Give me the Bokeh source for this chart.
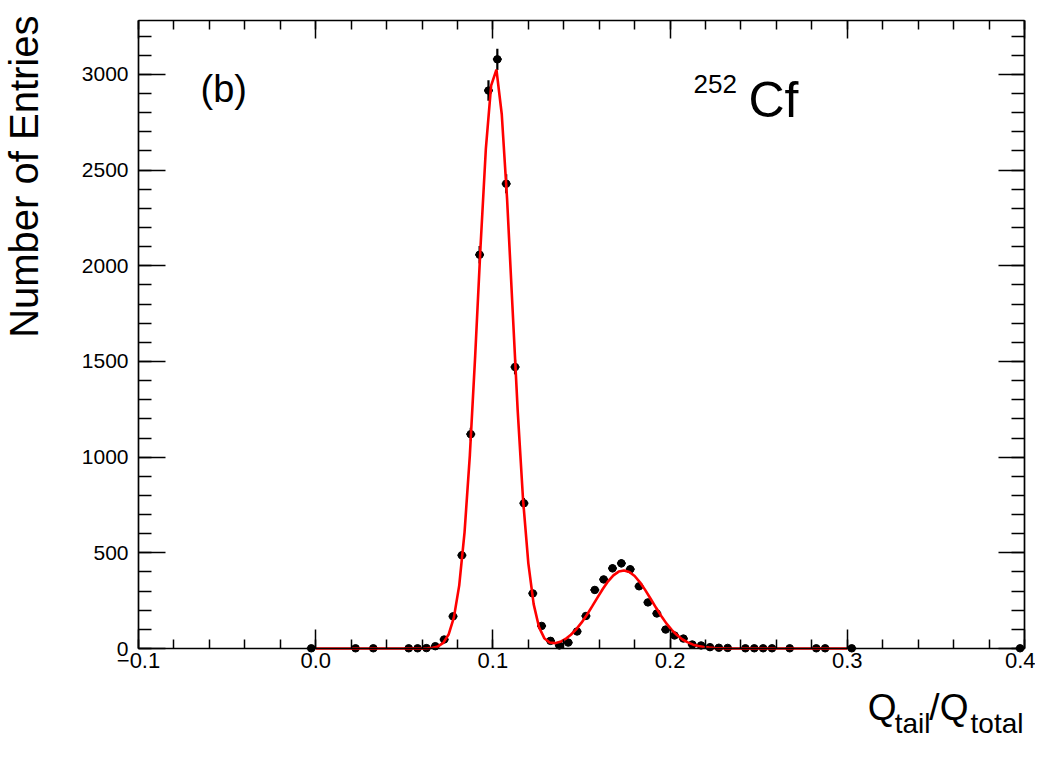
import math
from bokeh.plotting import figure
from bokeh.models import (LinearAxis, FixedTicker, Label, Range1d, ColumnDataSource,
                          CustomJSTickFormatter)
from bokeh.embed import file_html
from bokeh.resources import INLINE

# ---------------- data ----------------
bin_centers = [-0.0025, 0.0225, 0.0325, 0.0525, 0.0575, 0.0625, 0.0675, 0.0725,
               0.0775, 0.0825, 0.0875, 0.0925, 0.0975, 0.1025, 0.1075, 0.1125,
               0.1175, 0.1225, 0.1275, 0.1325, 0.1375, 0.1425, 0.1475, 0.1525,
               0.1575, 0.1625, 0.1675, 0.1725, 0.1775, 0.1825, 0.1875, 0.1925,
               0.1975, 0.2025, 0.2075, 0.2125, 0.2175, 0.2225, 0.2275, 0.2325,
               0.2425, 0.2475, 0.2525, 0.2575, 0.2675, 0.2825, 0.2875, 0.3025,
               0.3975]
counts = [1, 1, 1, 1, 1, 2, 12, 47,
          168, 487, 1120, 2058, 2916, 3079, 2429, 1471,
          759, 288, 118, 40, 16, 31, 89, 170,
          306, 361, 419, 445, 414, 325, 241, 183,
          99, 68, 52, 21, 16, 7, 4, 3,
          1, 1, 1, 1, 1, 1, 1, 1,
          1]
bin_width = 0.005

fit_x = [0.000, 0.057, 0.060, 0.063, 0.066, 0.069, 0.072, 0.075, 0.078, 0.081,
         0.084, 0.087, 0.090, 0.093, 0.096, 0.099, 0.102, 0.105, 0.108, 0.111,
         0.114, 0.117, 0.120, 0.123, 0.126, 0.129, 0.132, 0.135, 0.138, 0.141,
         0.144, 0.147, 0.150, 0.153, 0.156, 0.159, 0.162, 0.165, 0.168, 0.171,
         0.174, 0.177, 0.180, 0.183, 0.186, 0.189, 0.192, 0.195, 0.198, 0.201,
         0.204, 0.207, 0.210, 0.213, 0.216, 0.219, 0.222, 0.225, 0.228, 0.231,
         0.234, 0.237, 0.300]
fit_y = [0, 0, 0.3, 1.1, 3.6, 10.9, 29.6, 72.9, 162.8, 330,
         607, 1011, 1529, 2097, 2608, 2942, 3025, 2792, 2350, 1794,
         1242, 780, 445, 232, 112, 54, 31, 28, 35, 50,
         72, 100, 135, 175, 220, 266, 311, 351, 382, 402,
         408, 400, 379, 346, 305, 260, 214, 170, 130, 96,
         69, 47, 32, 20, 13, 7.5, 4.4, 2.4, 1.3, 0.7,
         0.3, 0, 0]

x_major = [-0.1, 0.0, 0.1, 0.2, 0.3, 0.4]
x_labels = {-0.1: "\u22120.1", 0.0: "0.0", 0.1: "0.1", 0.2: "0.2", 0.3: "0.3", 0.4: "0.4"}
x_minor = [round(-0.1 + 0.02 * i, 3) for i in range(26)]
y_major = [0, 500, 1000, 1500, 2000, 2500, 3000]
y_minor = [100 * i for i in range(33)]

x_axis_range = (-0.1, 0.4)
y_axis_range = (0, 3282)

FONT = "Liberation Sans"

# where the ROOT-style frame sits on the canvas (pixels)
F_LEFT, F_TOP, F_RIGHT, F_BOTTOM = 138, 20, 1024, 648
W, H = 1035, 750

XS = (F_RIGHT - F_LEFT) / (x_axis_range[1] - x_axis_range[0])
YS = (F_BOTTOM - F_TOP) / (y_axis_range[1] - y_axis_range[0])


def px_to_x(px):
    return x_axis_range[0] + (px - F_LEFT) / XS


def py_to_y(py):
    return y_axis_range[0] + (F_BOTTOM - py) / YS


# The Bokeh frame spans the whole canvas; the axes are drawn at fixed
# locations so that the texts around the frame are not clipped.
p = figure(width=W, height=H, output_backend="svg", toolbar_location=None,
           x_range=Range1d(px_to_x(0), px_to_x(W)),
           y_range=Range1d(py_to_y(H), py_to_y(0)),
           x_axis_location=None, y_axis_location=None,
           min_border_left=0, min_border_right=0,
           min_border_top=0, min_border_bottom=0)
p.xgrid.visible = False
p.ygrid.visible = False
p.outline_line_color = None
p.background_fill_color = "white"
p.border_fill_color = "white"


def style_axis(ax, ticks, minor, major_in, minor_in, show_labels, font_size="22px",
               standoff=5):
    ax.ticker = FixedTicker(ticks=ticks, minor_ticks=minor)
    ax.major_tick_in = major_in
    ax.major_tick_out = 0
    ax.minor_tick_in = minor_in
    ax.minor_tick_out = 0
    ax.axis_line_color = "black"
    ax.axis_line_width = 1.7
    ax.major_tick_line_width = 1.5
    ax.minor_tick_line_width = 1.5
    ax.major_tick_line_color = "black"
    ax.minor_tick_line_color = "black"
    ax.major_label_text_font = FONT
    if show_labels:
        ax.major_label_text_color = "black"
        ax.major_label_text_font_size = font_size
        ax.major_label_standoff = standoff
    else:
        ax.formatter = CustomJSTickFormatter(code="return ''")
        ax.major_label_text_color = None
        ax.major_label_text_font_size = "10px"
        ax.major_label_standoff = 0


xb = LinearAxis(fixed_location=y_axis_range[0], bounds=x_axis_range)
style_axis(xb, x_major, x_minor, 19, 9, True, "22px", 4)
xb.major_label_overrides = x_labels
p.add_layout(xb, "below")

xt = LinearAxis(fixed_location=y_axis_range[1], bounds=x_axis_range)
style_axis(xt, x_major, x_minor, 18, 9, False)
p.add_layout(xt, "above")

yl = LinearAxis(fixed_location=x_axis_range[0], bounds=y_axis_range)
style_axis(yl, y_major, y_minor, 27, 13, True, "21px", 10)
p.add_layout(yl, "left")

yr = LinearAxis(fixed_location=x_axis_range[1], bounds=y_axis_range)
style_axis(yr, y_major, y_minor, 26, 13, False)
p.add_layout(yr, "right")

# ---------------- data points with error bars ----------------
errs = [math.sqrt(c) for c in counts]
src = ColumnDataSource(dict(
    x=bin_centers, y=counts,
    x0=[x - bin_width / 2 for x in bin_centers],
    x1=[x + bin_width / 2 for x in bin_centers],
    ylo=[c - e for c, e in zip(counts, errs)],
    yhi=[c + e for c, e in zip(counts, errs)],
))
p.segment(x0="x", y0="ylo", x1="x", y1="yhi", source=src, line_color="black",
          line_width=2.2)
p.segment(x0="x0", y0="y", x1="x1", y1="y", source=src, line_color="black",
          line_width=2)
p.scatter(x="x", y="y", source=src, size=7.5, marker="circle", fill_color="black",
          line_color="black")

# ---------------- fit curve ----------------
p.line(fit_x, fit_y, line_color="#ff0000", line_width=2.6)


# ---------------- texts ----------------
# Bokeh's alphabetic anchor sits ~0.36 em below the glyph baseline; compensate
BASE_SHIFT = 0.36


def add_text(txt, px, py, size, align="left", rotated=False):
    if rotated:
        px = px - BASE_SHIFT * size
        angle = math.pi / 2
    else:
        py = py - BASE_SHIFT * size
        angle = 0.0
    p.add_layout(Label(x=px_to_x(px), y=py_to_y(py), text=txt, text_font=FONT,
                       text_font_size=f"{size}px", text_align=align,
                       text_baseline="alphabetic", angle=angle,
                       text_color="black"))


# y-axis title (rotated, end of text at the top)
add_text("Number of Entries", 38, 15, 40, align="right", rotated=True)

# x-axis title Q_tail / Q_total (pieces right-aligned)
add_text("total", 1023, 733, 28, align="right")
add_text("Q", 968, 720, 37, align="right")
add_text("/", 939, 720, 37, align="right")
add_text("tail", 930, 733, 28, align="right")
add_text("Q", 896, 720, 37, align="right")

# panel label and isotope
add_text("(b)", 200, 102, 38)
add_text("252", 693, 93, 26)
add_text("Cf", 748, 117, 50)

open("out.html", "w").write(file_html(p, INLINE))
